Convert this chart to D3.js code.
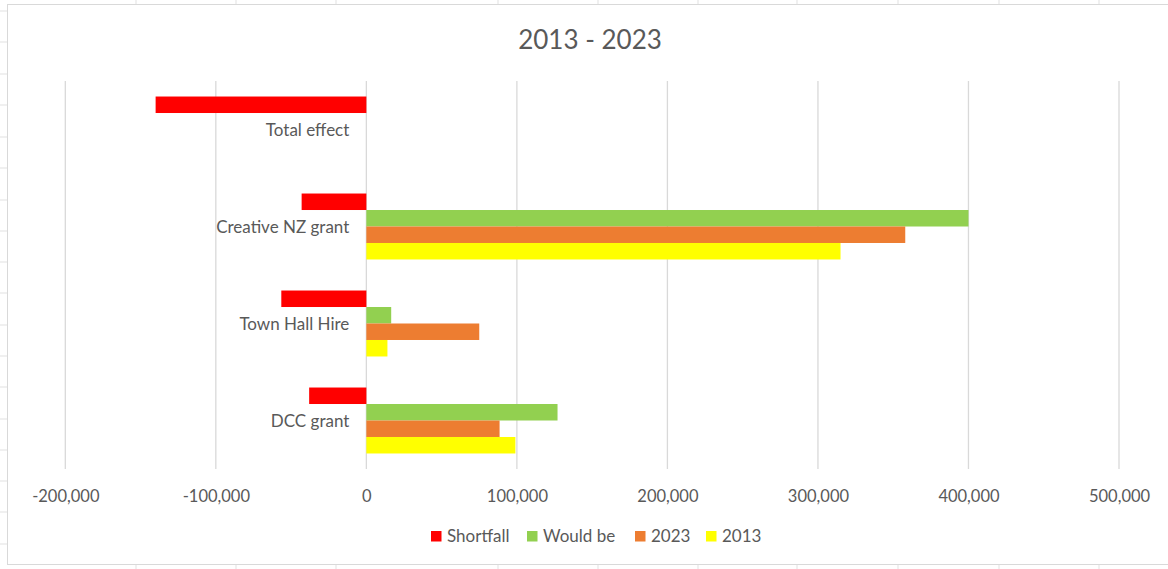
<!DOCTYPE html>
<html>
<head>
<meta charset="utf-8">
<script src="https://d3js.org/d3.v7.min.js"></script>
<style>
  body { margin: 0; background: #fff; }
  text { font-family: Lato, "Open Sans", sans-serif; fill: #595959; }
</style>
</head>
<body>
<div id="chart"></div>
<script>
const categories = ["Total effect", "Creative NZ grant", "Town Hall Hire", "DCC grant"];
const seriesNames = ["Shortfall", "Would be", "2023", "2013"];
const seriesColors = ["#ff0000", "#92d050", "#ed7d31", "#ffff00"];

// values per category, in the order of categories above
const shortfall = [-140000, -43000, -56500, -38000];
const wouldBe = [null, 400000, 16500, 127000];
const y2023 = [null, 358000, 75000, 88500];
const y2013 = [null, 315000, 14000, 99000];

const xTicks = [-200000, -100000, 0, 100000, 200000, 300000, 400000, 500000];
const title = "2013 - 2023";

// spreadsheet grid behind the chart
const sheetCols = [136, 236, 336, 498, 598, 698, 797, 898, 999, 1099];
const sheetRows = [11, 42, 74, 105, 137, 168, 200, 231, 262, 293, 325, 356, 387, 419, 450, 481, 512, 544];

const W = 1168, H = 569;
const frame = { left: 7.5, top: 4.5, bottom: 564.5 };
const plot = { left: 65.3, right: 1119, top: 81, bottom: 469 };

const svg = d3.select("#chart").append("svg")
    .attr("width", W)
    .attr("height", H);

// sheet gridlines outside the chart frame
svg.selectAll(".colTop")
    .data(sheetCols)
    .enter().append("line")
    .attr("x1", d => d).attr("x2", d => d)
    .attr("y1", 0).attr("y2", frame.top)
    .attr("stroke", "#e1e1e1");
svg.selectAll(".colBottom")
    .data(sheetCols)
    .enter().append("line")
    .attr("x1", d => d).attr("x2", d => d)
    .attr("y1", frame.bottom).attr("y2", H)
    .attr("stroke", "#e1e1e1");
svg.selectAll(".row")
    .data(sheetRows)
    .enter().append("line")
    .attr("x1", 0).attr("x2", frame.left)
    .attr("y1", d => d).attr("y2", d => d)
    .attr("stroke", "#e1e1e1");

// chart frame
svg.append("rect")
    .attr("x", frame.left)
    .attr("y", frame.top)
    .attr("width", W + 10)
    .attr("height", frame.bottom - frame.top)
    .attr("fill", "#fff")
    .attr("stroke", "#d9d9d9");

const x = d3.scaleLinear()
    .domain([-200000, 500000])
    .range([plot.left, plot.right]);

const y = d3.scaleBand()
    .domain(categories)
    .range([plot.top, plot.bottom])
    .paddingInner(0.32)
    .paddingOuter(0.16);

const ySub = d3.scaleBand()
    .domain(seriesNames)
    .range([0, y.bandwidth()]);

// vertical gridlines
svg.selectAll(".grid")
    .data(xTicks)
    .enter().append("line")
    .attr("x1", d => x(d)).attr("x2", d => x(d))
    .attr("y1", plot.top).attr("y2", plot.bottom)
    .attr("stroke", "#d9d9d9")
    .attr("stroke-width", 1.3);

// bars
const allSeries = [shortfall, wouldBe, y2023, y2013];
const barData = [];
categories.forEach((c, i) => {
    seriesNames.forEach((s, j) => {
        const v = allSeries[j][i];
        if (v !== null) barData.push({ category: c, series: s, value: v, color: seriesColors[j] });
    });
});

svg.selectAll(".bar")
    .data(barData)
    .enter().append("rect")
    .attr("class", "bar")
    .attr("x", d => Math.min(x(0), x(d.value)))
    .attr("y", d => y(d.category) + ySub(d.series))
    .attr("width", d => Math.abs(x(d.value) - x(0)))
    .attr("height", ySub.bandwidth())
    .attr("fill", d => d.color);

// category labels next to the zero line
svg.selectAll(".catLabel")
    .data(categories)
    .enter().append("text")
    .attr("x", x(0) - 17)
    .attr("y", d => y(d) + y.bandwidth() / 2 + 1)
    .attr("dy", "0.35em")
    .attr("text-anchor", "end")
    .attr("font-size", "17px")
    .text(d => d);

// x axis labels
const xAxis = svg.append("g")
    .attr("transform", "translate(0," + (plot.bottom + 18) + ")")
    .call(d3.axisBottom(x).tickValues(xTicks).tickSize(0).tickFormat(d3.format(",")));
xAxis.select(".domain").remove();
xAxis.selectAll("text")
    .attr("font-size", "16.5px")
    .attr("font-family", "Lato, sans-serif")
    .attr("fill", "#595959")
    .text(d => d3.format(",")(d).replace("−", "-"));

// title
svg.append("text")
    .attr("x", 590)
    .attr("y", 49)
    .attr("text-anchor", "middle")
    .attr("font-size", "26px")
    .text(title);

// legend
const legendX = [431, 527, 635, 706];
const legend = svg.selectAll(".legend")
    .data(seriesNames)
    .enter().append("g")
    .attr("transform", (d, i) => "translate(" + legendX[i] + ",531)");
legend.append("rect")
    .attr("width", 10.5)
    .attr("height", 10.5)
    .attr("fill", (d, i) => seriesColors[i]);
legend.append("text")
    .attr("x", 16)
    .attr("y", 5.5)
    .attr("dy", "0.35em")
    .attr("font-size", "17px")
    .text(d => d);
</script>
</body>
</html>
